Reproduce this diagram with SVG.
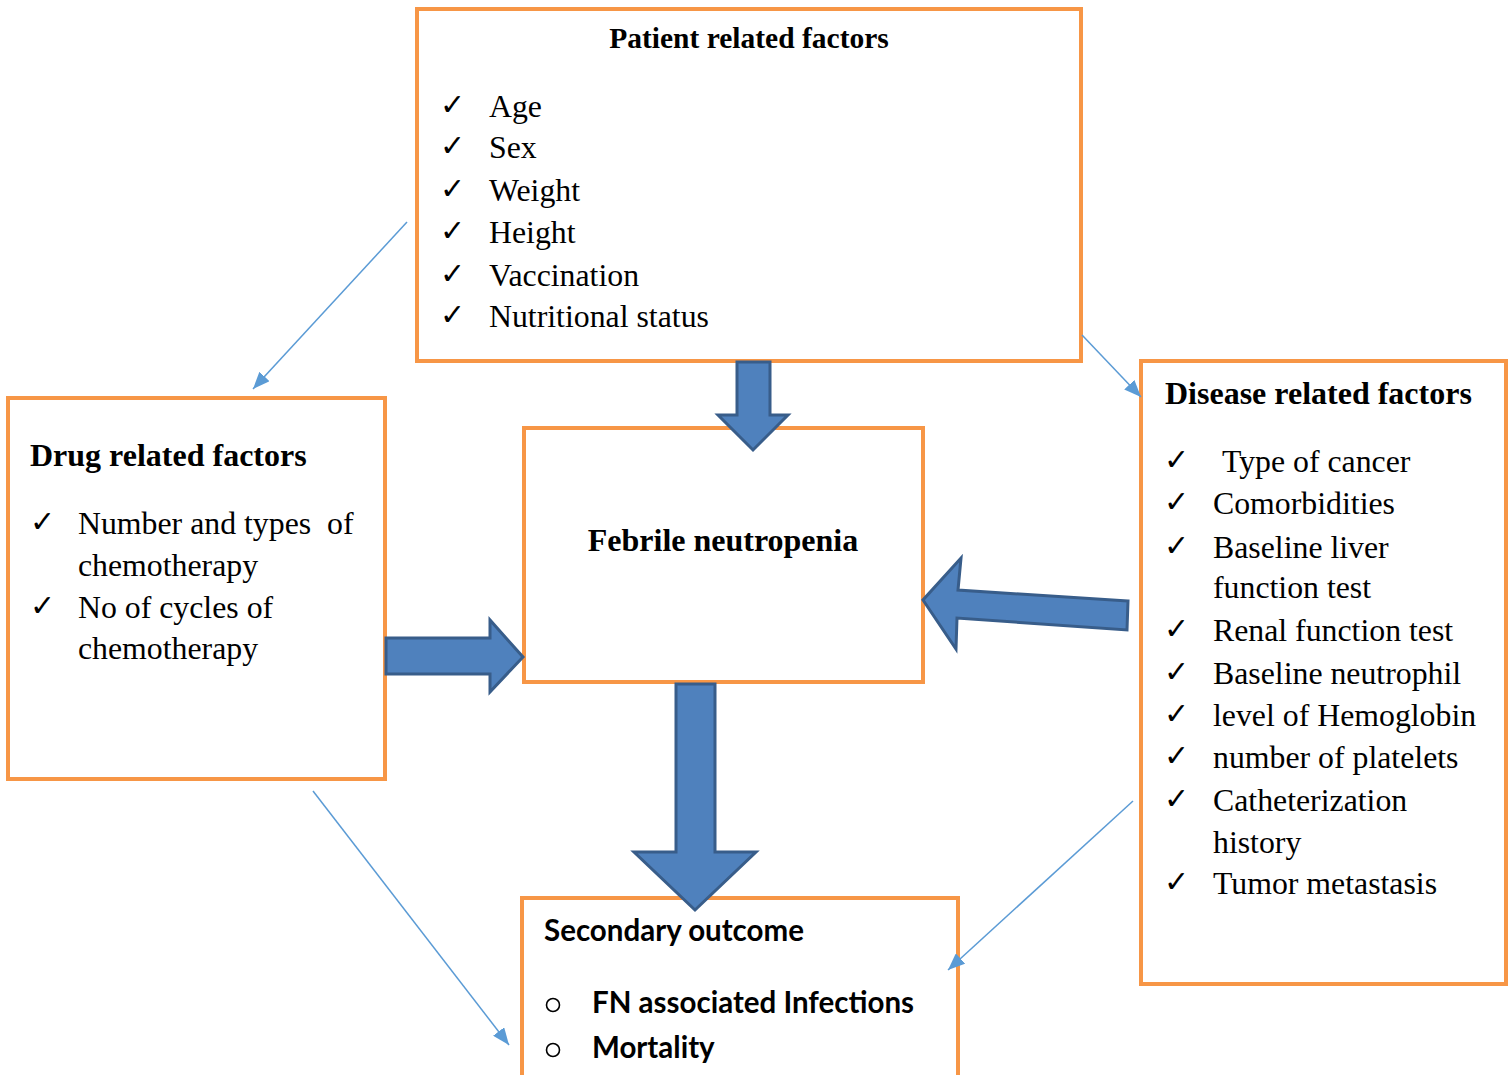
<svg xmlns="http://www.w3.org/2000/svg" width="1512" height="1075" viewBox="0 0 1512 1075">
<style>
.box{fill:#fff;stroke:#F79646;stroke-width:4}
.blk{fill:#4F81BD;stroke:#385D8A;stroke-width:3;stroke-linejoin:miter}
.thin{stroke:#5B9BD5;stroke-width:1.5;fill:none}
.t{font-family:"Liberation Serif","Times New Roman",serif;font-size:31.8px;fill:#000}
.tb{font-family:"Liberation Serif","Times New Roman",serif;font-size:32px;font-weight:bold;fill:#000}
.ck{font-family:"DejaVu Sans",sans-serif;font-size:30px;font-weight:bold;fill:#000}
.cb{font-family:Lato,"Open Sans",sans-serif;font-size:29.5px;font-weight:bold;fill:#000}
</style>
<defs>
<marker id="ah" markerUnits="userSpaceOnUse" markerWidth="18" markerHeight="14" refX="17" refY="7" orient="auto">
<path d="M0,0 L17,7 L0,14 Z" fill="#5B9BD5"/>
</marker>
</defs>
<rect width="1512" height="1075" fill="#fff"/>

<g id="patient">
<rect class="box" x="417" y="9" width="664" height="352"/>
<text class="tb" x="749" y="48" text-anchor="middle" style="font-size:29.5px">Patient related factors</text>
<text class="ck" x="440" y="115">✓</text><text class="t" x="489" y="117">Age</text>
<text class="ck" x="440" y="156">✓</text><text class="t" x="489" y="158">Sex</text>
<text class="ck" x="440" y="199">✓</text><text class="t" x="489" y="201">Weight</text>
<text class="ck" x="440" y="241">✓</text><text class="t" x="489" y="243">Height</text>
<text class="ck" x="440" y="284">✓</text><text class="t" x="489" y="286">Vaccination</text>
<text class="ck" x="440" y="325">✓</text><text class="t" x="489" y="327">Nutritional status</text>
</g>

<g id="drug">
<rect class="box" x="8" y="398" width="377" height="381"/>
<text class="tb" x="30" y="466">Drug related factors</text>
<text class="ck" x="30" y="532">✓</text><text class="t" x="78" y="534" xml:space="preserve">Number and types  of</text>
<text class="t" x="78" y="576">chemotherapy</text>
<text class="ck" x="30" y="616">✓</text><text class="t" x="78" y="618">No of cycles of</text>
<text class="t" x="78" y="659">chemotherapy</text>
</g>

<g id="febrile">
<rect class="box" x="524" y="428" width="399" height="254"/>
<text class="tb" x="723" y="551" text-anchor="middle">Febrile neutropenia</text>
</g>

<g id="disease">
<rect class="box" x="1141" y="361" width="365" height="623"/>
<text class="tb" x="1165" y="404">Disease related factors</text>
<text class="ck" x="1164" y="470">✓</text><text class="t" x="1222" y="472">Type of cancer</text>
<text class="ck" x="1164" y="512">✓</text><text class="t" x="1213" y="514">Comorbidities</text>
<text class="ck" x="1164" y="556">✓</text><text class="t" x="1213" y="558">Baseline liver</text>
<text class="t" x="1213" y="598">function test</text>
<text class="ck" x="1164" y="639">✓</text><text class="t" x="1213" y="641">Renal function test</text>
<text class="ck" x="1164" y="682">✓</text><text class="t" x="1213" y="684">Baseline neutrophil</text>
<text class="ck" x="1164" y="724">✓</text><text class="t" x="1213" y="726">level of Hemoglobin</text>
<text class="ck" x="1164" y="766">✓</text><text class="t" x="1213" y="768">number of platelets</text>
<text class="ck" x="1164" y="809">✓</text><text class="t" x="1213" y="811">Catheterization</text>
<text class="t" x="1213" y="853">history</text>
<text class="ck" x="1164" y="892">✓</text><text class="t" x="1213" y="894">Tumor metastasis</text>
</g>

<g id="secondary">
<rect class="box" x="522" y="898" width="436" height="190"/>
<text class="cb" x="544" y="941">Secondary outcome</text>
<circle cx="553" cy="1005" r="6.5" fill="none" stroke="#000" stroke-width="1.6"/>
<text class="cb" x="592" y="1013">FN associated Infections</text>
<circle cx="553" cy="1050" r="6.5" fill="none" stroke="#000" stroke-width="1.6"/>
<text class="cb" x="592" y="1058">Mortality</text>
</g>

<g id="connectors">
<polygon class="blk" points="737,362 770,362 770,415 788,415 753,450 718,415 737,415"/>
<polygon class="blk" points="386,638 490,638 490,620 523,657 490,692 490,674 386,674"/>
<polygon class="blk" points="1128,601 958,590 961,558 923,600 956,649 957,618 1127,630"/>
<polygon class="blk" points="676,684 715,684 715,852 756,852 695,910 634,852 676,852"/>
<line class="thin" x1="407" y1="222" x2="253" y2="389" marker-end="url(#ah)"/>
<line class="thin" x1="1082" y1="335" x2="1141" y2="397" marker-end="url(#ah)"/>
<line class="thin" x1="313" y1="791" x2="509" y2="1045" marker-end="url(#ah)"/>
<line class="thin" x1="1133" y1="801" x2="948" y2="970" marker-end="url(#ah)"/>
</g>
</svg>
